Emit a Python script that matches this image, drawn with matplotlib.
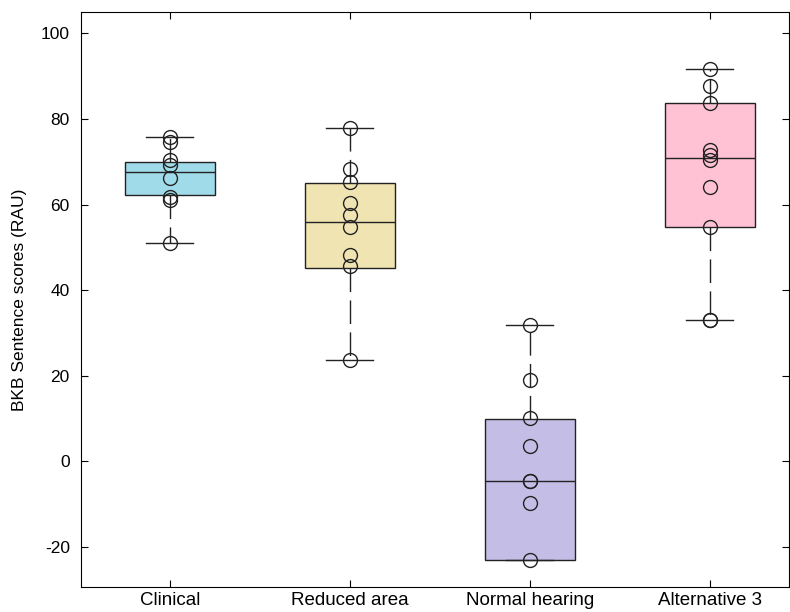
import matplotlib
matplotlib.use("Agg")
import matplotlib.pyplot as plt

plt.rcParams['font.family'] = ['Liberation Sans', 'DejaVu Sans']
plt.rcParams['axes.unicode_minus'] = False

groups = ['Clinical', 'Reduced area', 'Normal hearing', 'Alternative 3']
colors = ['#a0dbea', '#f0e4b2', '#c4bee6', '#ffc2d4']

# box statistics
q1 = [62.2, 45.2, -23.0, 54.7]
med = [67.5, 55.9, -4.5, 70.8]
q3 = [69.9, 65.0, 9.9, 83.7]
whislo = [51.0, 23.7, -23.0, 33.0]
whishi = [75.7, 77.8, 31.9, 91.6]

# individual scores
clinical = [75.7, 74.6, 70.4, 69.2, 66.2, 61.7, 61.0, 51.0]
reduced = [77.8, 68.3, 65.2, 60.3, 57.5, 54.7, 48.2, 45.6, 23.7]
normal = [31.9, 19.0, 10.2, 3.6, -4.5, -4.5, -9.7, -23.0]
alt3 = [91.6, 87.6, 83.7, 72.7, 71.5, 70.4, 64.1, 54.7, 33.0, 33.0]
scores = [clinical, reduced, normal, alt3]

positions = [1, 2, 3, 4]

fig = plt.figure(figsize=(7.9, 6.12), dpi=100)
ax = fig.add_axes([0.1025, 0.041, 0.896, 0.939])

stats = []
for i in range(4):
    stats.append(dict(q1=q1[i], med=med[i], q3=q3[i],
                      whislo=whislo[i], whishi=whishi[i], fliers=[]))

bp = ax.bxp(stats, positions=positions, widths=0.5, patch_artist=True,
            showfliers=False,
            boxprops=dict(edgecolor='#222222', linewidth=1.0),
            medianprops=dict(color='#222222', linewidth=1.0),
            whiskerprops=dict(color='#222222', linewidth=1.0,
                              linestyle=(0, (17, 6))),
            capprops=dict(color='#222222', linewidth=1.0),
            capwidths=0.26)
for patch, c in zip(bp['boxes'], colors):
    patch.set_facecolor(c)

for p, s in zip(positions, scores):
    ax.plot([p] * len(s), s, 'o', mfc='none', mec='#222222', ms=10,
            mew=1.0, zorder=5)

ax.set_xlim(0.506, 4.44)
ax.set_ylim(-29.3, 104.9)
ax.set_yticks([-20, 0, 20, 40, 60, 80, 100])
ax.set_xticks(positions)
ax.set_xticklabels(groups, fontsize=13.5)
ax.tick_params(axis='y', labelsize=12.5, pad=8)
ax.tick_params(direction='in', top=True, right=True, length=5)
ax.set_ylabel('BKB Sentence scores (RAU)', fontsize=12.5, labelpad=10)

fig.savefig('out.png', dpi=100)
